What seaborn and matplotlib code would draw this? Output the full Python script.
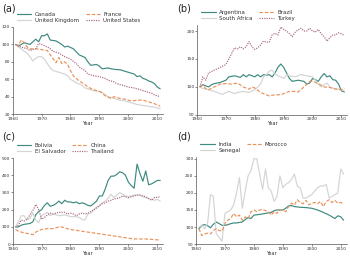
import numpy as np
import pandas as pd
import seaborn as sns
from matplotlib import pyplot as plt

# panel (a)
a_canada = {1961: 100, 1962: 98, 1964: 102, 1966: 100, 1968: 106, 1969: 103, 1970: 110, 1971: 110, 1972: 112,
            1973: 105, 1975: 104, 1977: 100, 1978: 97, 1979: 98, 1981: 95, 1983: 88, 1985: 85, 1986: 80,
            1987: 76, 1989: 77, 1990: 75, 1991: 72, 1993: 73, 1994: 72, 1996: 71, 1997: 71, 1998: 70,
            2000: 68, 2002: 66, 2003: 63, 2004: 64, 2005: 61, 2006: 60, 2007: 58, 2008: 57, 2009: 55,
            2010: 51, 2011: 49}
a_uk = {1961: 100, 1962: 97, 1963: 95, 1964: 92, 1965: 90, 1966: 86, 1967: 81, 1968: 84, 1969: 86, 1970: 86,
        1971: 83, 1972: 78, 1973: 73, 1974: 70, 1976: 68, 1978: 66, 1979: 64, 1980: 60, 1982: 56, 1984: 53,
        1985: 50, 1987: 48, 1988: 47, 1990: 46, 1991: 45, 1992: 42, 1993: 40, 1995: 38, 1997: 36, 1999: 35,
        2001: 33, 2003: 31, 2005: 30, 2007: 29, 2009: 28, 2011: 26}
a_france = {1961: 100, 1962: 99, 1963: 105, 1964: 102, 1965: 97, 1966: 95, 1968: 95, 1970: 94, 1972: 93,
            1973: 88, 1975: 79, 1976: 85, 1977: 78, 1978: 80, 1979: 77, 1980: 70, 1981: 64, 1983: 58,
            1985: 54, 1986: 51, 1988: 48, 1990: 46, 1991: 44, 1992: 41, 1994: 38, 1995: 40, 1997: 38,
            1999: 37, 2001: 35, 2003: 36, 2005: 36, 2007: 34, 2009: 32, 2011: 29}
a_us = {1961: 100, 1962: 98, 1963: 97, 1965: 95, 1966: 93, 1968: 95, 1969: 101, 1970: 100, 1972: 97,
        1973: 95, 1974: 92, 1976: 90, 1977: 88, 1978: 86, 1980: 83, 1982: 78, 1983: 74, 1985: 70, 1986: 66,
        1988: 64, 1990: 63, 1992: 61, 1993: 59, 1995: 57, 1996: 55, 1998: 53, 2000: 51, 2002: 50, 2004: 48,
        2006: 46, 2008: 44, 2009: 42, 2011: 40}

# panel (b)
b_argentina = {1961: 100, 1962: 104, 1964: 100, 1965: 104, 1966: 106, 1968: 108, 1970: 112, 1971: 118,
               1973: 120, 1975: 117, 1976: 122, 1977: 118, 1978: 122, 1979: 120, 1980: 118, 1981: 122,
               1982: 118, 1983: 122, 1984: 121, 1985: 122, 1986: 118, 1987: 125, 1988: 135, 1989: 141,
               1990: 135, 1991: 125, 1992: 115, 1993: 110, 1995: 112, 1997: 110, 1998: 105, 1999: 107,
               2000: 115, 2001: 113, 2002: 110, 2003: 118, 2004: 124, 2005: 118, 2006: 120, 2007: 113,
               2008: 112, 2009: 105, 2010: 93, 2011: 91}
b_safrica = {1961: 100, 1962: 97, 1964: 95, 1966: 92, 1968: 88, 1969: 87, 1970: 90, 1971: 92, 1973: 88,
             1974: 90, 1976: 92, 1978: 90, 1980: 95, 1982: 105, 1983: 118, 1984: 122, 1985: 128, 1986: 130,
             1987: 124, 1988: 120, 1989: 118, 1990: 115, 1991: 122, 1992: 120, 1994: 118, 1996: 122,
             1997: 121, 1998: 120, 2000: 118, 2001: 112, 2002: 105, 2003: 100, 2004: 104, 2005: 107,
             2006: 100, 2007: 98, 2008: 97, 2010: 95, 2011: 93}
b_brazil = {1961: 100, 1962: 103, 1963: 97, 1964: 95, 1966: 100, 1968: 105, 1970: 106, 1972: 105, 1974: 107,
            1976: 100, 1977: 98, 1978: 96, 1979: 100, 1980: 98, 1982: 90, 1984: 86, 1985: 84, 1987: 86,
            1989: 86, 1990: 88, 1992: 92, 1994: 92, 1995: 91, 1996: 95, 1998: 105, 1999: 110, 2000: 110,
            2002: 106, 2004: 100, 2006: 99, 2008: 96, 2010: 95, 2011: 98}
b_turkey = {1961: 100, 1962: 118, 1963: 112, 1964: 125, 1966: 130, 1968: 135, 1970: 140, 1971: 150,
            1972: 160, 1973: 170, 1974: 168, 1975: 172, 1976: 168, 1977: 172, 1978: 181, 1979: 172,
            1980: 167, 1981: 170, 1982: 175, 1983: 182, 1984: 180, 1985: 180, 1986: 193, 1987: 196,
            1988: 193, 1989: 207, 1990: 203, 1991: 200, 1992: 195, 1993: 190, 1994: 198, 1995: 202,
            1996: 205, 1997: 200, 1998: 200, 1999: 205, 2000: 200, 2001: 198, 2002: 203, 2003: 195,
            2004: 190, 2005: 182, 2006: 188, 2007: 193, 2008: 193, 2009: 197, 2010: 195, 2011: 192}

# panel (c)
c_bolivia = {1961: 100, 1962: 100, 1963: 110, 1964: 115, 1966: 120, 1967: 130, 1968: 170, 1969: 190,
             1970: 200, 1971: 225, 1972: 240, 1973: 220, 1974: 225, 1975: 235, 1976: 250, 1977: 235,
             1978: 255, 1979: 245, 1980: 245, 1981: 240, 1982: 245, 1983: 235, 1984: 240, 1985: 235,
             1986: 225, 1987: 222, 1988: 235, 1989: 250, 1990: 280, 1991: 280, 1992: 320, 1993: 370,
             1994: 395, 1995: 395, 1996: 405, 1997: 420, 1998: 415, 1999: 400, 2000: 360, 2001: 340,
             2002: 325, 2003: 465, 2004: 410, 2005: 365, 2006: 425, 2007: 345, 2008: 350, 2009: 360,
             2010: 370, 2011: 370}
c_salvador = {1961: 100, 1962: 130, 1963: 165, 1964: 165, 1965: 140, 1966: 150, 1967: 180, 1968: 140,
              1969: 125, 1970: 165, 1971: 175, 1972: 185, 1973: 165, 1974: 175, 1976: 165, 1978: 170,
              1980: 160, 1982: 160, 1983: 155, 1984: 145, 1985: 140, 1986: 175, 1987: 180, 1988: 195,
              1989: 215, 1990: 220, 1991: 240, 1992: 250, 1993: 265, 1994: 290, 1995: 270, 1996: 285,
              1997: 300, 1998: 290, 1999: 280, 2000: 275, 2001: 280, 2002: 285, 2003: 285, 2004: 285,
              2005: 275, 2006: 270, 2007: 265, 2008: 260, 2009: 255, 2010: 260, 2011: 250}
c_china = {1961: 85, 1962: 75, 1963: 70, 1964: 65, 1966: 60, 1967: 55, 1968: 70, 1970: 85, 1972: 90,
           1974: 90, 1976: 100, 1977: 100, 1978: 95, 1980: 85, 1982: 80, 1984: 75, 1986: 70, 1988: 65,
           1990: 60, 1992: 55, 1994: 50, 1996: 45, 1998: 40, 2000: 35, 2002: 30, 2004: 30, 2006: 30,
           2008: 28, 2010: 25, 2011: 25}
c_thailand = {1961: 100, 1962: 110, 1963: 140, 1964: 135, 1965: 145, 1966: 170, 1967: 195, 1968: 230,
              1969: 200, 1970: 145, 1971: 155, 1972: 170, 1973: 180, 1974: 175, 1975: 180, 1976: 185,
              1977: 185, 1978: 185, 1979: 175, 1980: 180, 1981: 175, 1982: 165, 1983: 175, 1984: 180,
              1985: 175, 1986: 180, 1987: 190, 1988: 200, 1989: 210, 1990: 225, 1991: 235, 1992: 240,
              1993: 250, 1994: 255, 1995: 262, 1996: 265, 1997: 270, 1998: 280, 1999: 275, 2000: 270,
              2001: 275, 2002: 280, 2003: 285, 2004: 285, 2005: 280, 2006: 275, 2007: 265, 2008: 255,
              2009: 270, 2010: 272, 2011: 275}

# panel (d)
d_india = {1961: 95, 1962: 105, 1963: 107, 1964: 104, 1965: 98, 1966: 108, 1967: 115, 1968: 110, 1969: 105,
           1970: 105, 1971: 107, 1972: 110, 1973: 112, 1974: 112, 1976: 115, 1977: 122, 1978: 128,
           1979: 125, 1980: 135, 1982: 137, 1984: 140, 1986: 143, 1987: 148, 1988: 150, 1989: 150,
           1990: 150, 1991: 155, 1992: 162, 1993: 163, 1994: 160, 1996: 158, 1998: 157, 2000: 155,
           2002: 150, 2004: 143, 2006: 135, 2008: 125, 2009: 133, 2010: 130, 2011: 120}
d_senegal = {1961: 100, 1962: 105, 1963: 95, 1964: 110, 1965: 195, 1966: 190, 1967: 80, 1968: 70, 1969: 58,
             1970: 140, 1971: 145, 1972: 150, 1973: 165, 1974: 200, 1975: 245, 1976: 155, 1977: 205,
             1978: 250, 1979: 265, 1980: 300, 1981: 300, 1982: 255, 1983: 210, 1984: 270, 1985: 215,
             1986: 205, 1987: 175, 1988: 190, 1989: 250, 1990: 215, 1991: 225, 1992: 230, 1993: 240,
             1994: 255, 1995: 220, 1996: 215, 1997: 185, 1998: 185, 1999: 190, 2000: 195, 2001: 205,
             2002: 215, 2003: 220, 2004: 220, 2005: 225, 2006: 185, 2007: 190, 2008: 195, 2009: 200,
             2010: 270, 2011: 255}
d_morocco = {1961: 95, 1962: 75, 1963: 80, 1964: 82, 1965: 80, 1966: 90, 1967: 95, 1968: 90, 1969: 88,
             1970: 110, 1971: 120, 1972: 125, 1973: 140, 1974: 130, 1975: 135, 1976: 120, 1977: 130,
             1978: 125, 1979: 145, 1980: 150, 1981: 145, 1982: 150, 1983: 152, 1984: 148, 1985: 145,
             1986: 135, 1987: 145, 1988: 140, 1989: 150, 1990: 150, 1991: 145, 1992: 160, 1993: 170,
             1994: 165, 1995: 180, 1996: 172, 1997: 168, 1998: 178, 1999: 165, 2000: 170, 2001: 172,
             2002: 168, 2003: 175, 2004: 160, 2005: 175, 2006: 180, 2007: 172, 2008: 178, 2009: 170,
             2010: 172, 2011: 168}

TEAL = '#3d8a80'
GREY = '#d4d4d4'
ORANGE = '#e8925a'
PURPLE = '#a8687e'

# (name, data, colour, dashes) ; legend order fills column-wise
panels = [
    ('(a)', [('Canada', a_canada, TEAL, ''), ('United Kingdom', a_uk, GREY, ''),
             ('France', a_france, ORANGE, (3, 1.5)), ('United States', a_us, PURPLE, (1, 1))],
     (20, 120), [20, 40, 60, 80, 100, 120]),
    ('(b)', [('Argentina', b_argentina, TEAL, ''), ('South Africa', b_safrica, GREY, ''),
             ('Brazil', b_brazil, ORANGE, (3, 1.5)), ('Turkey', b_turkey, PURPLE, (1, 1))],
     (50, 210), [50, 100, 150, 200]),
    ('(c)', [('Bolivia', c_bolivia, TEAL, ''), ('El Salvador', c_salvador, GREY, ''),
             ('China', c_china, ORANGE, (3, 1.5)), ('Thailand', c_thailand, PURPLE, (1, 1))],
     (0, 500), [0, 100, 200, 300, 400, 500]),
    ('(d)', [('India', d_india, TEAL, ''), ('Senegal', d_senegal, GREY, ''),
             ('Morocco', d_morocco, ORANGE, (3, 1.5))],
     (50, 305), [50, 100, 150, 200, 250, 300]),
]

sns.set_theme(style='ticks')
plt.rcParams['font.family'] = ['DejaVu Sans']

fig = plt.figure(figsize=(3.5, 2.57), dpi=100)
rects = [[0.036, 0.556, 0.43, 0.339], [0.563, 0.553, 0.429, 0.348],
         [0.036, 0.05, 0.43, 0.335], [0.56, 0.05, 0.43, 0.339]]
label_pos = [(0.005, 0.985), (0.505, 0.985), (0.005, 0.49), (0.505, 0.49)]

for (label, series, ylim, yticks), rect, lp in zip(panels, rects, label_pos):
    ax = fig.add_axes(rect)
    for name, data, col, dash in series:
        df = pd.DataFrame({'Year': list(data.keys()), 'value': list(data.values())})
        sns.lineplot(data=df, x='Year', y='value', ax=ax, color=col, linewidth=0.85, label=name)
        if dash:
            ax.lines[-1].set_dashes(dash)
    ax.set_xlim(1960, 2012)
    ax.set_ylim(*ylim)
    ax.set_xticks([1960, 1970, 1980, 1990, 2000, 2010])
    ax.set_yticks(yticks)
    ax.tick_params(labelsize=3.2, length=1.2, width=0.4, pad=0.6, colors='#333333')
    ax.set_xlabel('Year', fontsize=3.6, labelpad=0, color='#333333')
    ax.set_ylabel('')
    for s in ['left', 'bottom']:
        ax.spines[s].set_linewidth(0.5)
        ax.spines[s].set_color('#555555')
    sns.despine(ax=ax)
    ax.legend(loc='lower left', bbox_to_anchor=(0.0, 1.0), ncol=2, frameon=False, fontsize=4,
              handlelength=2.6, columnspacing=1.2, labelspacing=0.1, borderpad=0.3, handletextpad=0.6,
              labelcolor='#333333')
    fig.text(lp[0], lp[1], label, fontsize=7, va='top', ha='left', color='#222222')

fig.savefig('out.png', dpi=100)
